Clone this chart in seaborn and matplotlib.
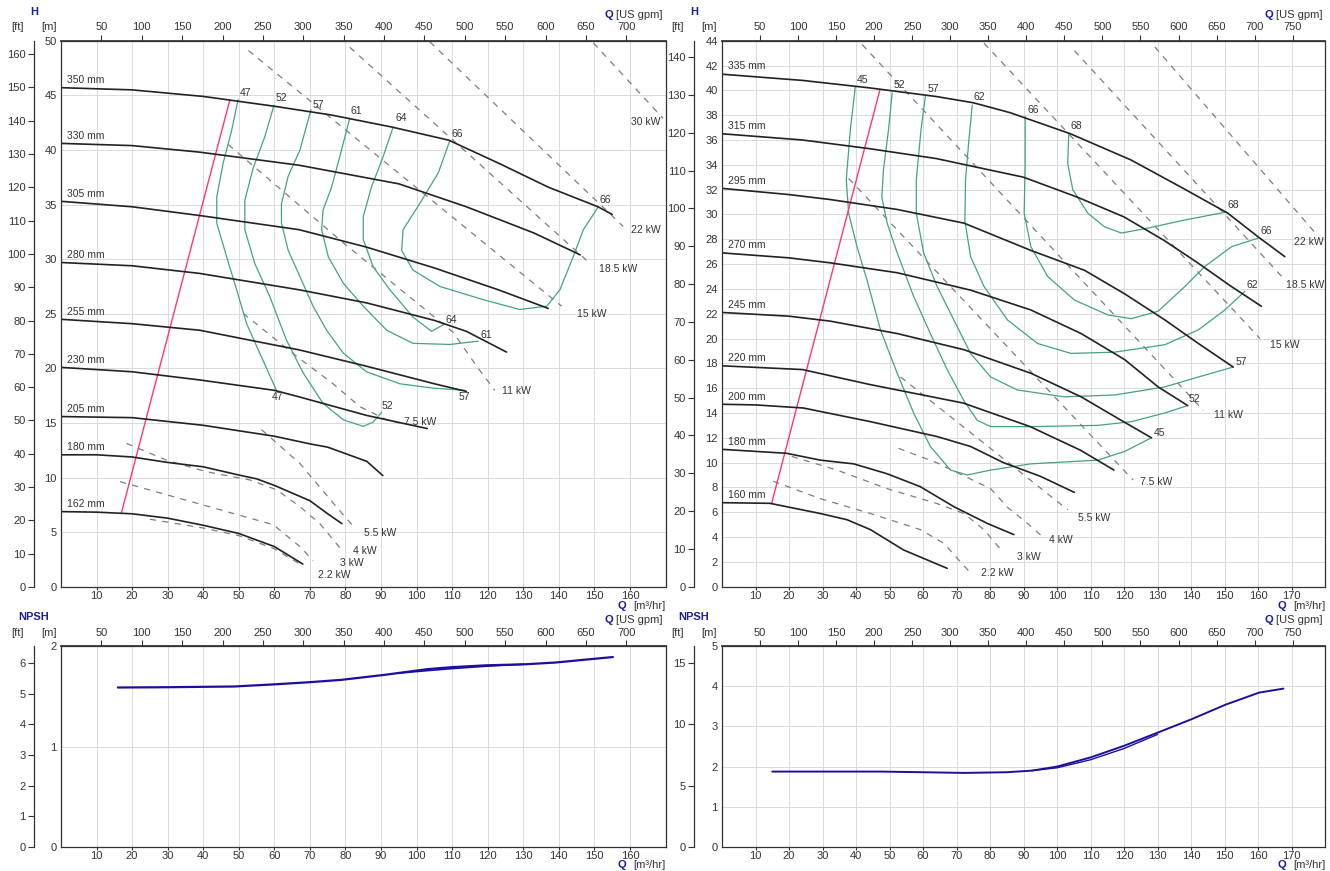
import matplotlib
matplotlib.use('Agg')
import matplotlib.pyplot as plt
import seaborn as sns

# ---------------- DATA ----------------
# Left chart: impeller curves  (Q m3/h, H m)
L_DIAM = ['350 mm', '330 mm', '305 mm', '280 mm', '255 mm', '230 mm', '205 mm', '180 mm', '162 mm']
L350_Q = [0, 20, 40, 60, 76, 93, 109, 123, 137, 151, 155]
L350_H = [45.7, 45.5, 44.9, 44.0, 43.2, 42.1, 40.9, 38.8, 36.6, 34.8, 34.1]
L330_Q = [0, 20, 39, 67, 95, 114, 133, 146]
L330_H = [40.6, 40.4, 39.8, 38.6, 36.9, 34.8, 32.4, 30.4]
L305_Q = [0, 20, 39, 67, 86, 105, 123, 137]
L305_H = [35.3, 34.8, 34.0, 32.7, 31.1, 29.2, 27.2, 25.5]
L280_Q = [0, 20, 39, 67, 86, 105, 114, 125.3]
L280_H = [29.7, 29.4, 28.7, 27.2, 26.0, 24.4, 23.4, 21.5]
L255_Q = [0, 20, 39, 67, 86, 105, 114]
L255_H = [24.5, 24.1, 23.5, 21.7, 20.2, 18.6, 17.9]
L230_Q = [0, 20, 39, 60, 67, 86, 103]
L230_H = [20.1, 19.7, 18.95, 18.0, 17.4, 15.7, 14.5]
L205_Q = [0, 20, 40, 60, 70, 75, 86, 90.5]
L205_H = [15.6, 15.5, 14.8, 13.8, 13.1, 12.8, 11.5, 10.2]
L180_Q = [0, 10, 20, 30, 40, 50, 55, 60, 70, 75, 79]
L180_H = [12.1, 12.1, 11.9, 11.4, 11.0, 10.25, 9.9, 9.3, 7.9, 6.7, 5.8]
L162_Q = [0, 10, 20, 30, 40, 50, 60, 68]
L162_H = [6.9, 6.85, 6.7, 6.3, 5.65, 4.9, 3.7, 2.1]

# Left chart: efficiency curves (%)
LE47_Q = [49.8, 48.0, 45.6, 43.8, 43.8, 46.6, 49.4, 52.2, 55.9, 60.6]
LE47_H = [44.6, 41.8, 38.8, 35.7, 33.3, 30.2, 27.2, 24.1, 21.4, 18.0]
LE52_Q = [59.9, 57.3, 54.0, 51.7, 51.7, 54.5, 58.7, 63.4, 68.1, 73.7, 79.4, 85.0, 87.8, 90.2]
LE52_H = [44.1, 41.2, 38.3, 35.4, 32.7, 29.6, 26.6, 22.6, 19.6, 16.8, 15.3, 14.7, 15.1, 16.0]
LE57_Q = [70.3, 67.2, 63.9, 62.0, 62.0, 63.9, 67.2, 70.9, 74.7, 79.4, 85.9, 95.3, 104.7, 113.6]
LE57_H = [43.7, 40.0, 37.6, 35.1, 33.3, 30.8, 28.4, 25.7, 23.5, 21.4, 19.7, 18.6, 18.2, 18.0]
LE61_Q = [81.2, 78.4, 76.1, 73.7, 73.3, 75.2, 79.4, 85.0, 91.6, 99.0, 109.4, 117.3]
LE61_H = [42.9, 39.4, 36.6, 34.5, 32.7, 30.2, 27.8, 25.7, 23.5, 22.3, 22.2, 22.5]
LE64_Q = [93.4, 90.6, 87.3, 85.0, 85.0, 87.8, 92.5, 99.0, 104.2, 107.5]
LE64_H = [42.1, 39.4, 36.6, 33.9, 31.8, 29.3, 27.2, 24.7, 23.4, 24.0]
LE66_Q = [109.4, 106.1, 100.9, 96.2, 95.8, 99.0, 106.6, 118.7, 129.0, 136.6, 140.3, 144.0, 146.9, 151.1]
LE66_H = [40.9, 37.9, 35.1, 32.7, 30.8, 29.0, 27.5, 26.3, 25.4, 25.7, 27.2, 30.2, 32.7, 34.8]
L_EFF_TOP = ['47', '52', '57', '61', '64', '66']
L_EFF_TOP_Q = [52.0, 62.0, 72.3, 83.1, 95.6, 111.4]
L_EFF_TOP_H = [45.2, 44.8, 44.1, 43.6, 42.9, 41.5]
L_EFF_END = ['66', '64', '61', '57', '52', '47']
L_EFF_END_Q = [153.1, 109.8, 119.5, 113.4, 91.7, 60.8]
L_EFF_END_H = [35.4, 24.4, 23.1, 17.4, 16.6, 17.4]

# Left chart: power lines (kW)
LP30_Q, LP30_H = [149.7, 169.3], [49.8, 42.9]
LP22_Q, LP22_H = [103.7, 158.1], [49.9, 33.0]
LP18_Q, LP18_H = [81.2, 147.8], [49.4, 29.9]
LP15_Q, LP15_H = [52.7, 140.8], [49.1, 25.7]
LP11_Q = [47.0, 79.4, 110.3, 116.9, 122.0]
LP11_H = [40.5, 31.5, 23.3, 20.2, 18.0]
LP7_Q = [51.2, 66.3, 76.5, 84.1, 91.6, 95.3]
LP7_H = [25.05, 21.1, 18.6, 16.5, 15.3, 15.0]
LP5_Q = [56.4, 67.2, 76.5, 82.6]
LP5_H = [14.4, 11.3, 7.7, 5.4]
LP4_Q = [18.4, 29.7, 40.9, 53.1, 60.6, 67.2, 72.8, 78.4]
LP4_H = [13.15, 11.6, 10.55, 9.8, 8.9, 7.35, 5.8, 3.6]
LP3_Q = [16.6, 46.6, 59.7, 67.2, 70.9]
LP3_H = [9.64, 6.9, 5.7, 3.7, 2.4]
LP2_Q = [25, 40, 50, 60, 67.2]
LP2_H = [6.2, 5.4, 4.7, 3.5, 2.1]
L_KW = ['30 kW', '22 kW', '18.5 kW', '15 kW', '11 kW', '7.5 kW', '5.5 kW', '4 kW', '3 kW', '2.2 kW']
L_KW_Q = [164.5, 164.5, 156.6, 149.3, 128.0, 101.0, 89.7, 85.4, 81.8, 76.8]
L_KW_H = [42.6, 32.7, 29.1, 25.0, 17.9, 15.1, 4.95, 3.3, 2.2, 1.1]
L_RED_Q, L_RED_H = [17.0, 47.5], [6.8, 44.6]

# Right chart: impeller curves
R_DIAM = ['335 mm', '315 mm', '295 mm', '270 mm', '245 mm', '220 mm', '200 mm', '180 mm', '160 mm']
R335_Q = [0, 24, 44, 64, 75, 86, 104, 122, 137, 151, 160, 168]
R335_H = [41.3, 40.8, 40.2, 39.5, 39.0, 38.2, 36.5, 34.4, 32.2, 30.1, 28.2, 26.6]
R315_Q = [0, 24, 44, 64, 90, 106, 120, 132, 142, 152, 161]
R315_H = [36.5, 36.0, 35.3, 34.5, 33.0, 31.4, 29.8, 27.9, 26.1, 24.2, 22.6]
R295_Q = [0, 20, 32.3, 52.3, 72.2, 92.2, 108.2, 120.2, 132.2, 142.2, 152.6]
R295_H = [32.1, 31.6, 31.2, 30.4, 29.3, 27.1, 25.5, 23.6, 21.5, 19.6, 17.7]
R270_Q = [0, 20, 32.3, 52.3, 74.2, 92.2, 107.2, 120.2, 130.2, 139.0]
R270_H = [26.9, 26.5, 26.1, 25.3, 23.9, 22.3, 20.4, 18.3, 16.1, 14.6]
R245_Q = [0, 20, 32.3, 52.3, 72.2, 92.2, 107.2, 119.2, 128.2]
R245_H = [22.1, 21.8, 21.4, 20.4, 19.1, 17.2, 15.3, 13.4, 12.0]
R220_Q = [0, 24, 44, 72, 92, 107, 117]
R220_H = [17.8, 17.5, 16.3, 14.8, 12.9, 11.0, 9.4]
R200_Q = [0, 10, 24.3, 44.3, 64.2, 74.2, 84, 95, 105.2]
R200_H = [14.7, 14.65, 14.4, 13.3, 12.1, 11.3, 10.0, 8.9, 7.6]
R180_Q = [0, 19.3, 29.3, 39.3, 49.3, 59.2, 69.2, 79.2, 87.1]
R180_H = [11.07, 10.75, 10.2, 9.9, 9.1, 8.06, 6.45, 5.1, 4.2]
R160_Q = [0, 14.3, 29.3, 37.3, 44.3, 54.2, 67.2]
R160_H = [6.77, 6.72, 5.9, 5.4, 4.6, 2.96, 1.48]

# Right chart: efficiency curves
RE45_Q = [39.8, 38.3, 37.1, 37.8, 40.3, 43.3, 47.3, 52.3, 57.2, 62.2, 68.2, 73.2, 80.2, 92.2, 112.2, 120.2, 128.2]
RE45_H = [40.3, 36.8, 32.8, 30.1, 27.4, 24.7, 20.7, 17.2, 14.0, 11.3, 9.4, 9.0, 9.4, 9.9, 10.2, 10.9, 12.0]
RE52_Q = [50.8, 49.7, 48.2, 47.7, 49.3, 52.3, 57.2, 62.2, 67.2, 72.2, 76.2, 80.2, 92.2, 112.2, 122.2, 132.2, 139.0]
RE52_H = [39.8, 36.8, 33.6, 31.4, 29.3, 26.9, 23.4, 20.4, 17.5, 15.0, 13.4, 12.9, 12.9, 13.0, 13.3, 14.0, 14.6]
RE57_Q = [60.7, 59.4, 58.0, 58.0, 60.2, 64.2, 69.2, 74.2, 80.2, 88.2, 102.2, 117.2, 132.2, 142.2, 152.6]
RE57_H = [39.5, 36.8, 32.8, 30.1, 26.9, 24.2, 21.5, 18.8, 16.9, 15.85, 15.3, 15.45, 16.1, 16.9, 17.7]
RE62_Q = [74.7, 73.7, 72.7, 72.5, 74.2, 78.2, 85.2, 94.2, 104.2, 117.2, 132.2, 142.2, 150.1, 156.1]
RE62_H = [38.8, 36.0, 32.8, 29.5, 26.6, 24.2, 21.5, 19.6, 18.8, 18.9, 19.5, 20.7, 22.3, 23.8]
RE66_Q = [90.5, 90.5, 90.2, 92.2, 97.2, 105.2, 115.2, 122.2, 130.2, 138.2, 144.1, 152.1, 160.1]
RE66_H = [37.9, 34.1, 30.1, 27.4, 25.0, 23.1, 21.9, 21.6, 22.2, 24.2, 25.8, 27.4, 28.1]
RE68_Q = [103.5, 103.2, 104.7, 109.2, 114.2, 119.2, 127.2, 137.2, 150.6]
RE68_H = [36.5, 34.1, 32.0, 30.1, 29.0, 28.5, 28.9, 29.5, 30.2]
R_EFF_TOP = ['45', '52', '57', '62', '66', '68']
R_EFF_TOP_Q = [41.8, 53.0, 63.2, 76.7, 92.9, 105.7]
R_EFF_TOP_H = [40.8, 40.4, 40.1, 39.5, 38.4, 37.1]
R_EFF_END = ['68', '66', '62', '57', '52', '45']
R_EFF_END_Q = [152.6, 162.6, 158.3, 154.9, 141.1, 130.7]
R_EFF_END_H = [30.8, 28.7, 24.3, 18.1, 15.1, 12.4]

# Right chart: power lines
RP22_Q, RP22_H = [129.2, 177.1], [43.5, 28.5]
RP18_Q, RP18_H = [105.2, 168.1], [43.2, 24.7]
RP15_Q, RP15_H = [78.2, 160.6], [43.8, 20.0]
RP11_Q, RP11_H = [41.8, 143.7], [43.7, 14.2]
RP7_Q, RP7_H = [37.8, 122.7], [32.9, 8.6]
RP5_Q, RP5_H = [53.3, 103.2], [16.9, 6.2]
RP4_Q = [52.7, 64.0, 80.2, 85.2, 91.2, 96.2]
RP4_H = [11.15, 10.0, 7.9, 6.4, 5.1, 3.9]
RP3_Q = [20.8, 34.3, 49.3, 64.2, 72.2, 78.2, 83.2]
RP3_H = [10.5, 9.4, 7.9, 6.7, 5.9, 4.6, 3.0]
RP2_Q = [15.3, 29.3, 44.3, 59.2, 66.2, 74.2]
RP2_H = [8.5, 7.1, 5.9, 4.6, 3.5, 1.1]
R_KW = ['22 kW', '18.5 kW', '15 kW', '11 kW', '7.5 kW', '5.5 kW', '4 kW', '3 kW', '2.2 kW']
R_KW_Q = [175.1, 174.1, 168.1, 151.3, 129.7, 111.1, 101.2, 91.6, 82.3]
R_KW_H = [27.8, 24.3, 19.5, 13.8, 8.4, 5.5, 3.8, 2.4, 1.1]
R_RED_Q, R_RED_H = [14.8, 47.1], [6.7, 40.0]

# NPSH curves
NL_Q = [16.0, 30, 48.7, 60.8, 70, 78.8, 90.8, 102.9, 110.1, 119.7, 130.5, 138.9, 148.6, 155.2]
NL_H = [1.587, 1.59, 1.597, 1.62, 1.64, 1.663, 1.712, 1.769, 1.79, 1.808, 1.818, 1.835, 1.868, 1.89]
NL2_Q = [95, 103, 110, 120, 130]
NL2_H = [1.73, 1.755, 1.775, 1.80, 1.818]
NR_Q = [15.0, 47.3, 59.9, 72.4, 85.0, 92.5, 100.0, 110.1, 120.1, 130.2, 140.2, 150.3, 160.3, 167.6]
NR_H = [1.876, 1.876, 1.86, 1.843, 1.86, 1.90, 2.0, 2.23, 2.52, 2.85, 3.18, 3.54, 3.84, 3.94]
NR2_Q = [92.5, 100, 110, 120, 130]
NR2_H = [1.90, 1.97, 2.17, 2.45, 2.80]

# ---------------- STYLE ----------------
sns.set_theme(style='white')
plt.rcParams['font.family'] = ['Liberation Sans', 'DejaVu Sans']

W, Hpx = 1330, 871
BLUE = '#1c1c9c'
TXT = '#333333'
PUMP = '#222222'
EFF = '#44a284'
PWR = '#7d7d7d'
RED = '#ff3870'
NPSHC = '#1d0f9e'

M2FT = 3.28084
GPM = 4.402868

fig = plt.figure(figsize=(W / 100, Hpx / 100), dpi=100)


def rect(x0, y0, x1, y1):
    return [x0 / W, 1 - y1 / Hpx, (x1 - x0) / W, (y1 - y0) / Hpx]


def ftext(x, y, s, **kw):
    fig.text(x / W, 1 - y / Hpx, s, **kw)


def setup(ax, xmax, xticks, ymax, yticks, ft_ticks, gpm_ticks, ft_loc):
    ax.set_xlim(0, xmax)
    ax.set_ylim(0, ymax)
    ax.set_xticks(xticks)
    ax.set_yticks(yticks)
    ax.set_xlabel('')
    ax.set_ylabel('')
    ax.grid(True, color='#dadada', lw=0.7)
    ax.set_axisbelow(True)
    for s in ax.spines.values():
        s.set_color(TXT)
        s.set_linewidth(0.9)
    ax.tick_params(axis='x', bottom=True, length=2, width=0.8, pad=1,
                   labelsize=8, colors=TXT)
    ax.tick_params(axis='y', left=True, length=0, pad=3, labelsize=8, colors=TXT)
    sec = ax.secondary_yaxis(ft_loc, functions=(lambda m: m * M2FT, lambda f: f / M2FT))
    sec.set_yticks(ft_ticks)
    sec.tick_params(axis='y', left=True, length=4, width=0.8, pad=2,
                    labelsize=8, colors=TXT)
    sec.spines['left'].set_color(TXT)
    sec.spines['left'].set_linewidth(0.9)
    top = ax.secondary_xaxis('top', functions=(lambda q: q * GPM, lambda g: g / GPM))
    top.set_xticks(gpm_ticks)
    top.tick_params(axis='x', top=True, length=4, width=0.8, pad=2,
                    labelsize=8, colors=TXT)
    top.spines['top'].set_color(TXT)


def line(ax, q, h, color, lw, dashed=False):
    kw = dict(x=q, y=h, ax=ax, color=color, lw=lw, sort=False,
              estimator=None, legend=False)
    if dashed:
        kw['linestyle'] = (0, (5, 5))
    sns.lineplot(**kw)


# ---------------- TOP LEFT ----------------
axL = fig.add_axes(rect(61, 40.7, 665.5, 587))
setup(axL, 170, range(10, 170, 10), 50, range(0, 51, 5), range(0, 161, 10),
      range(50, 701, 50), -27 / 604.5)

for q, h in [(LP30_Q, LP30_H), (LP22_Q, LP22_H), (LP18_Q, LP18_H), (LP15_Q, LP15_H),
             (LP11_Q, LP11_H), (LP7_Q, LP7_H), (LP5_Q, LP5_H), (LP4_Q, LP4_H),
             (LP3_Q, LP3_H), (LP2_Q, LP2_H)]:
    line(axL, q, h, PWR, 0.9, dashed=True)
for lab, q, h in zip(L_KW, L_KW_Q, L_KW_H):
    axL.text(q, h, lab, fontsize=7.5, color=TXT, ha='center', va='center')

for q, h in [(LE47_Q, LE47_H), (LE52_Q, LE52_H), (LE57_Q, LE57_H), (LE61_Q, LE61_H),
             (LE64_Q, LE64_H), (LE66_Q, LE66_H)]:
    line(axL, q, h, EFF, 0.9)
for lab, q, h in zip(L_EFF_TOP, L_EFF_TOP_Q, L_EFF_TOP_H):
    axL.text(q, h, lab, fontsize=7.5, color=TXT, ha='center', va='center')
for lab, q, h in zip(L_EFF_END, L_EFF_END_Q, L_EFF_END_H):
    axL.text(q, h, lab, fontsize=7.5, color=TXT, ha='center', va='center')

line(axL, L_RED_Q, L_RED_H, RED, 1.0)

L_CURVES = [(L350_Q, L350_H), (L330_Q, L330_H), (L305_Q, L305_H), (L280_Q, L280_H),
            (L255_Q, L255_H), (L230_Q, L230_H), (L205_Q, L205_H), (L180_Q, L180_H),
            (L162_Q, L162_H)]
for lab, (q, h) in zip(L_DIAM, L_CURVES):
    line(axL, q, h, PUMP, 1.2)
    axL.annotate(lab, (q[0], h[0]), xytext=(4, 2), textcoords='offset points',
                 fontsize=7.5, color=TXT, ha='left', va='bottom')

# ---------------- TOP RIGHT ----------------
axR = fig.add_axes(rect(722, 40.7, 1325, 586.7))
setup(axR, 180, range(10, 180, 10), 44, range(0, 45, 2), range(0, 141, 10),
      range(50, 751, 50), -27.7 / 603)

for q, h in [(RP22_Q, RP22_H), (RP18_Q, RP18_H), (RP15_Q, RP15_H), (RP11_Q, RP11_H),
             (RP7_Q, RP7_H), (RP5_Q, RP5_H), (RP4_Q, RP4_H), (RP3_Q, RP3_H), (RP2_Q, RP2_H)]:
    line(axR, q, h, PWR, 0.9, dashed=True)
for lab, q, h in zip(R_KW, R_KW_Q, R_KW_H):
    axR.text(q, h, lab, fontsize=7.5, color=TXT, ha='center', va='center')

for q, h in [(RE45_Q, RE45_H), (RE52_Q, RE52_H), (RE57_Q, RE57_H), (RE62_Q, RE62_H),
             (RE66_Q, RE66_H), (RE68_Q, RE68_H)]:
    line(axR, q, h, EFF, 0.9)
for lab, q, h in zip(R_EFF_TOP, R_EFF_TOP_Q, R_EFF_TOP_H):
    axR.text(q, h, lab, fontsize=7.5, color=TXT, ha='center', va='center')
for lab, q, h in zip(R_EFF_END, R_EFF_END_Q, R_EFF_END_H):
    axR.text(q, h, lab, fontsize=7.5, color=TXT, ha='center', va='center')

line(axR, R_RED_Q, R_RED_H, RED, 1.0)

R_CURVES = [(R335_Q, R335_H), (R315_Q, R315_H), (R295_Q, R295_H), (R270_Q, R270_H),
            (R245_Q, R245_H), (R220_Q, R220_H), (R200_Q, R200_H), (R180_Q, R180_H),
            (R160_Q, R160_H)]
for lab, (q, h) in zip(R_DIAM, R_CURVES):
    line(axR, q, h, PUMP, 1.2)
    axR.annotate(lab, (q[0], h[0]), xytext=(4, 2), textcoords='offset points',
                 fontsize=7.5, color=TXT, ha='left', va='bottom')

# ---------------- NPSH ----------------
axNL = fig.add_axes(rect(61, 646, 665.5, 847))
setup(axNL, 170, range(10, 170, 10), 2, [0, 1, 2], range(0, 7, 1),
      range(50, 701, 50), -27 / 604.5)
line(axNL, NL_Q, NL_H, NPSHC, 1.6)
line(axNL, NL2_Q, NL2_H, NPSHC, 1.2)

axNR = fig.add_axes(rect(722, 646, 1325, 847))
setup(axNR, 180, range(10, 180, 10), 5, range(0, 6, 1), [0, 5, 10, 15],
      range(50, 751, 50), -27.7 / 603)
line(axNR, NR_Q, NR_H, NPSHC, 1.4)
line(axNR, NR2_Q, NR2_H, NPSHC, 1.0)

# ---------------- HEADER / AXIS TITLES ----------------
for x0, yt, yu, title in [(0, 11.7, 26.7, 'H'), (660, 11.7, 26.7, 'H'),
                          (0, 617, 633, 'NPSH'), (660, 617, 633, 'NPSH')]:
    ftext(x0 + 34, yt, title, fontsize=8, color=BLUE, fontweight='bold',
          ha='center', va='center')
    ftext(x0 + 18, yu, '[ft]', fontsize=8, color=TXT, ha='center', va='center')
    ftext(x0 + 49, yu, '[m]', fontsize=8, color=TXT, ha='center', va='center')

for xr, yq in [(662, 15.2), (1322, 15.2), (662, 620), (1322, 620)]:
    ftext(xr, yq, '[US gpm]', fontsize=8, color=TXT, ha='right', va='center')
    ftext(xr - 49, yq, 'Q', fontsize=8, color=BLUE, fontweight='bold',
          ha='right', va='center')

for xr, yq in [(665, 606), (1325, 606), (665, 865), (1325, 865)]:
    ftext(xr, yq, '[m³/hr]', fontsize=8, color=TXT, ha='right', va='center')
    ftext(xr - 39, yq, 'Q', fontsize=8, color=BLUE, fontweight='bold',
          ha='right', va='center')

fig.savefig('out.png', dpi=100, facecolor='white')
